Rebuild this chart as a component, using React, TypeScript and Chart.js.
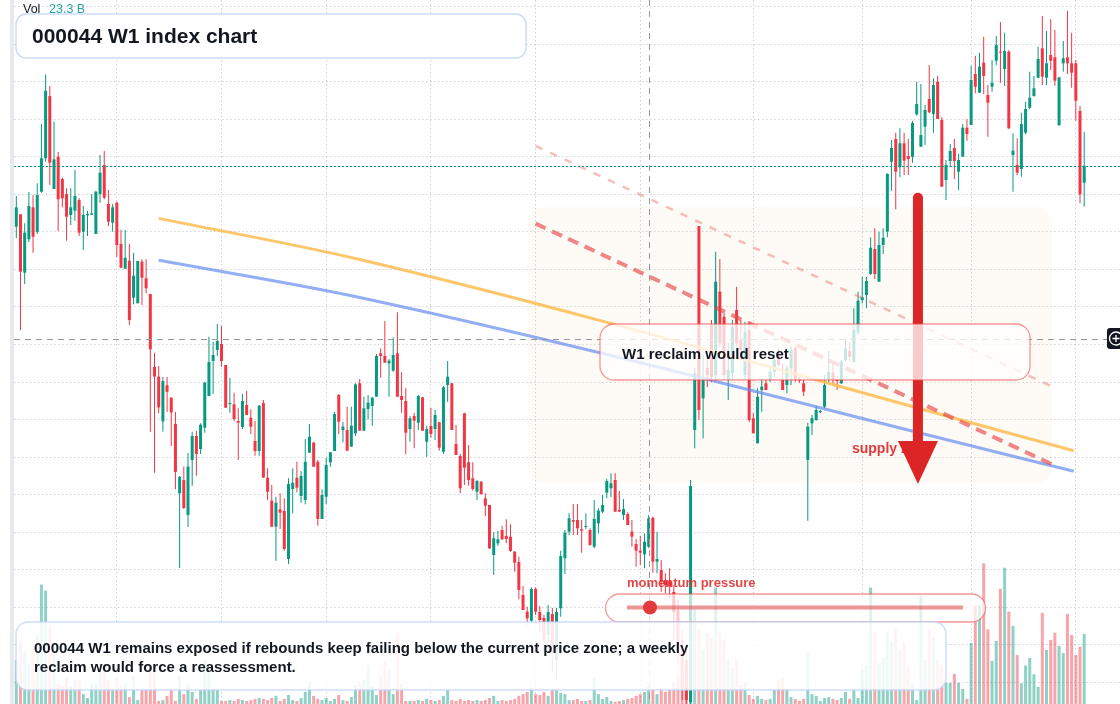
import { useEffect, useRef } from "react";
import { Chart, registerables } from "chart.js";

Chart.register(...registerables);

// Weekly OHLC values (index units)
const opens = [
  5773.3, 5785.7, 5727.3, 5760.7, 5792.7, 5768.3, 5808.3, 5841.7, 5903.9, 5811,
  5843.3, 5821, 5806, 5785, 5789.3, 5800, 5768.3, 5784.7, 5785.3, 5766,
  5806, 5835, 5796, 5777.3, 5797.3, 5756, 5731.3, 5739.3, 5702.3, 5696.7,
  5738.3, 5721.7, 5706, 5633.2, 5623.4, 5578.6, 5614.7, 5602.4, 5576.1, 5506.7,
  5519.9, 5485, 5540, 5564, 5551, 5572.3, 5604, 5639, 5650, 5656,
  5635, 5596, 5595.7, 5579, 5573, 5595, 5582.3, 5559, 5549, 5597,
  5522.3, 5499.3, 5473.3, 5490.7, 5489, 5441, 5511, 5522.3, 5504, 5500,
  5547.3, 5557.3, 5538.3, 5481, 5503.3, 5537.7, 5549, 5605, 5570, 5570,
  5553.3, 5566.7, 5616.7, 5569.3, 5591, 5594, 5603.3, 5646.7, 5644, 5636.7,
  5629.3, 5646.7, 5604, 5599, 5571, 5584, 5577.3, 5602.7, 5558.3, 5574,
  5571, 5577.7, 5548.3, 5615, 5616.7, 5556, 5544, 5586.7, 5537.7, 5521.7,
  5508.3, 5518.3, 5501.7, 5495, 5445, 5456.7, 5470, 5464, 5463.3, 5448.3,
  5438, 5405, 5388.3, 5379.3, 5411, 5388, 5382, 5365, 5386, 5340,
  5391.7, 5441.7, 5468.3, 5480, 5480, 5470.7, 5473, 5470, 5453.3, 5476.7,
  5488.3, 5507.3, 5511.7, 5520, 5490, 5485, 5486, 5468.3, 5456, 5449.3,
  5445.7, 5453.3, 5482.3, 5438.3, 5430, 5420, 5418.3, 5408, 5390, 5360,
  5340, 5298, 5570, 5774, 5601.7, 5632, 5675, 5625, 5708.3, 5683.3,
  5620, 5626.7, 5690, 5660, 5625, 5670, 5581.7, 5556.7, 5610, 5616.7,
  5620, 5628.3, 5643.3, 5620, 5615, 5631.7, 5651.7, 5621, 5616.7, 5540,
  5576.7, 5580, 5587.7, 5593.3, 5620, 5627.3, 5620.7, 5616.7, 5640, 5649.3,
  5638.3, 5667.3, 5700, 5705, 5726, 5751, 5718.3, 5755, 5768.3, 5838.3,
  5861, 5832.7, 5856.7, 5844, 5843.3, 5885.7, 5853.3, 5873.3, 5901, 5886,
  5918.3, 5880, 5820, 5839, 5852, 5828.3, 5843.3, 5872.3, 5875, 5926,
  5907.3, 5937.3, 5905, 5913.3, 5939.3, 5948, 5931, 5948.3, 5845, 5835,
  5831, 5867.3, 5892.3, 5904, 5922.3, 5951.7, 5922.3, 5945, 5942.7, 5875,
  5936.7, 5942.7, 5936.7, 5936.7, 5889, 5817.3,
];

const highs = [
  5804, 5785.7, 5776.7, 5808, 5804.7, 5816.7, 5876, 5925.6, 5914.1, 5878.4,
  5848, 5822.3, 5811.7, 5811.7, 5830, 5802, 5794, 5789.3, 5806, 5809.3,
  5845, 5849, 5810, 5796, 5798.3, 5770, 5770, 5756, 5747.3, 5739,
  5740.7, 5740.7, 5706, 5647.2, 5634, 5623, 5623, 5602.4, 5588, 5524,
  5533.4, 5547, 5568.3, 5569, 5576.7, 5618.3, 5663.3, 5658.3, 5676, 5674,
  5635, 5622.3, 5607.3, 5591.7, 5606, 5609, 5590.7, 5579, 5595, 5600,
  5531.7, 5515, 5503.3, 5506.7, 5501.7, 5521.7, 5531.7, 5538.3, 5529, 5561,
  5576, 5558.3, 5540, 5510.7, 5542.3, 5547.7, 5588.3, 5606, 5578.3, 5593.3,
  5593.3, 5616.7, 5621, 5603.3, 5605, 5603.3, 5646, 5651.7, 5679, 5641,
  5662.7, 5687.7, 5627.7, 5611.7, 5584, 5587.3, 5605, 5602.7, 5574.3, 5592.3,
  5590, 5578.3, 5614, 5639, 5617.3, 5575, 5546, 5587.3, 5555, 5537.7,
  5520, 5519, 5506.7, 5495, 5467.7, 5469, 5474.3, 5480.7, 5475.7, 5449,
  5443.3, 5414, 5393.3, 5412.7, 5412.7, 5394, 5385, 5395, 5392, 5392,
  5449.3, 5470, 5486.7, 5496, 5496, 5480, 5486.7, 5471.7, 5500, 5491.7,
  5505, 5521, 5526.7, 5526.7, 5509, 5501, 5487.7, 5480, 5461, 5464,
  5466.7, 5485, 5483.3, 5468.3, 5440, 5426.7, 5431.7, 5415, 5400, 5370,
  5350, 5520, 5632, 5774, 5645, 5643, 5680, 5748.3, 5741, 5686.7,
  5657, 5680, 5713.3, 5680, 5678.3, 5678, 5586.7, 5611.7, 5621.7, 5620,
  5633.3, 5646.7, 5651.7, 5636.7, 5635, 5653.3, 5653.3, 5623.3, 5621.7, 5577.3,
  5585, 5594, 5590, 5625, 5649, 5637.3, 5623.3, 5640, 5661.7, 5658.3,
  5691.7, 5708.3, 5723.3, 5723.3, 5762.7, 5771.7, 5768.3, 5771.7, 5826.7, 5860,
  5867.3, 5871.7, 5867.3, 5861, 5879.3, 5918.3, 5916, 5895, 5935, 5921.7,
  5924, 5882.7, 5840, 5856, 5861, 5846, 5876, 5880.7, 5934.3, 5944.3,
  5947.3, 5963.3, 5915, 5940, 5964, 5978, 5967.3, 5950, 5866.7, 5861.7,
  5887.3, 5898.3, 5928.3, 5924, 5953.3, 5984, 5969, 5981, 5970, 5922.7,
  5959, 5989, 5967.3, 5940, 5894, 5868.3,
];

const lows = [
  5761.7, 5670, 5716, 5758, 5747.3, 5766, 5807.3, 5838.3, 5815, 5811,
  5769, 5792.7, 5759.3, 5775, 5779.3, 5764, 5750, 5764, 5785.3, 5766,
  5797.3, 5800.7, 5774, 5768.3, 5743.3, 5731.7, 5731.3, 5675, 5695.7, 5696.7,
  5695, 5706.7, 5568.3, 5527.3, 5586.8, 5568.3, 5588, 5554, 5510.8, 5432,
  5491.1, 5473, 5514.3, 5524.3, 5546, 5567.3, 5604, 5606, 5644, 5633.3,
  5592.3, 5587.3, 5579, 5540, 5571, 5585, 5565.7, 5544.3, 5544.3, 5522.3,
  5500, 5473.3, 5439.3, 5471, 5449.3, 5436, 5486.7, 5507.7, 5497.3, 5495.7,
  5547.3, 5533.3, 5474.3, 5481, 5496, 5533.3, 5549, 5565.7, 5557.7, 5549.3,
  5553.3, 5564, 5569.3, 5569.3, 5580.7, 5574.3, 5603.3, 5622.3, 5637.3, 5603.3,
  5628.3, 5603.3, 5587.3, 5545.7, 5558.3, 5551.7, 5570, 5569.3, 5543.3, 5562.3,
  5560, 5549.3, 5546, 5598.3, 5570, 5545, 5506.7, 5515, 5514.3, 5509.3,
  5500, 5505, 5484, 5451, 5425, 5454.3, 5460, 5456.7, 5448.3, 5428.3,
  5400.7, 5390, 5375, 5378.3, 5385, 5368, 5350, 5358, 5327, 5320,
  5383.3, 5426, 5465, 5465, 5465, 5447.3, 5470.7, 5454.3, 5451.7, 5466.7,
  5486.7, 5501.7, 5502.7, 5488.3, 5488.3, 5480, 5475, 5453.3, 5433.3, 5435,
  5431.7, 5451.7, 5427.3, 5426.7, 5408.3, 5406.7, 5401.7, 5360, 5335, 5300,
  5290, 5288, 5551.7, 5580, 5561.7, 5613, 5618, 5620, 5653.3, 5620,
  5600, 5620, 5653.3, 5640, 5620, 5578, 5566.7, 5556.7, 5588.3, 5610,
  5618.3, 5623.3, 5633.3, 5610, 5606.7, 5615, 5618.3, 5617.3, 5604, 5479.3,
  5565, 5579.3, 5586.7, 5591.7, 5616.7, 5616.7, 5610, 5616, 5638.3, 5638.3,
  5637.3, 5665, 5696.7, 5691.7, 5725, 5721, 5718.3, 5746, 5762.7, 5809.3,
  5790.7, 5822.7, 5825, 5825, 5837.3, 5884.3, 5853.3, 5855, 5886.7, 5867.3,
  5881, 5813.3, 5800, 5832.7, 5821, 5810, 5843.3, 5859.3, 5875, 5906.7,
  5907.3, 5906, 5863.3, 5908.3, 5935, 5917.3, 5914, 5871, 5808.3, 5825,
  5823.3, 5865.7, 5890.7, 5903.3, 5921.7, 5915, 5915, 5930, 5914.3, 5874,
  5928.3, 5926, 5912.3, 5879.3, 5796.7, 5793.3,
];

const closes = [
  5792.7, 5728.3, 5767.3, 5794, 5763.3, 5805, 5841.7, 5909.2, 5837.3, 5840.7,
  5800.7, 5801.7, 5783.3, 5792.7, 5804, 5767.3, 5785, 5786, 5786.7, 5808.3,
  5827.3, 5802.3, 5778.3, 5792.7, 5755, 5732.3, 5742.3, 5680, 5724.3, 5739,
  5722.3, 5711.7, 5650.7, 5623.4, 5592.6, 5618.9, 5608.2, 5587.6, 5528.1, 5523.2,
  5492, 5533.4, 5564, 5546, 5575.3, 5617.3, 5638, 5645, 5659, 5639,
  5592.3, 5597, 5581, 5577.3, 5599, 5585, 5573.3, 5549, 5594.3, 5522.3,
  5508.3, 5473.3, 5497.3, 5487.3, 5451, 5516, 5517.3, 5512.3, 5524, 5538.3,
  5563.3, 5533.3, 5481, 5505, 5535, 5547.7, 5586, 5578.3, 5573.3, 5549.3,
  5574.3, 5615.7, 5569.3, 5591.7, 5597.3, 5602.3, 5644, 5644, 5637.3, 5639.3,
  5645, 5603.3, 5600, 5567.3, 5581.7, 5579.3, 5604, 5569.3, 5571, 5566,
  5585, 5552.3, 5612.7, 5623.3, 5570, 5545, 5511.7, 5532.3, 5520, 5511,
  5519, 5506, 5494.3, 5451.7, 5461.7, 5460.7, 5460.7, 5461, 5449, 5437.3,
  5410, 5390, 5381.7, 5411, 5388.3, 5380, 5360, 5388, 5355, 5388,
  5444, 5467.3, 5481.7, 5478.3, 5471.7, 5469.3, 5474, 5455, 5481, 5489.3,
  5495, 5519, 5516.7, 5488.3, 5488.3, 5491, 5475, 5463.3, 5449.3, 5447.3,
  5458.3, 5481.7, 5438.3, 5441, 5418.3, 5415, 5413.3, 5388, 5350, 5312,
  5300, 5514, 5626.7, 5590, 5620, 5625, 5623, 5718.3, 5656.7, 5625,
  5630, 5673.3, 5656.7, 5650, 5668.3, 5580, 5566.7, 5603.3, 5613.3, 5610,
  5628.3, 5640, 5635, 5610, 5631.7, 5650, 5620, 5619.3, 5608.3, 5573.3,
  5581.7, 5590, 5589, 5615, 5628.3, 5620, 5619, 5638.3, 5651.7, 5643.3,
  5670, 5699.3, 5702.7, 5719, 5752.3, 5726, 5755, 5762.3, 5826, 5852,
  5828.3, 5856.7, 5839.3, 5841, 5877, 5896, 5865, 5890, 5887.7, 5915,
  5881, 5813.3, 5835, 5849, 5839, 5840, 5872.3, 5866, 5920, 5913.3,
  5933.3, 5924, 5897.3, 5917.3, 5955, 5947.3, 5949, 5871.7, 5849.3, 5827.3,
  5876, 5891, 5902.3, 5911.7, 5941, 5923.3, 5936.7, 5939.3, 5919.3, 5922.7,
  5941.7, 5936.7, 5927.3, 5899.3, 5805.7, 5834.3,
];

// Weekly volume, billions
const volumes = [
  14.7, 21.0, 17.7, 13.3, 18.3, 23.0, 39.7, 37.7, 26.3, 17.7,
  6.7, 6.0, 8.7, 6.0, 8.0, 8.0, 3.3, 2.0, 7.0, 7.0,
  13.3, 13.3, 8.0, 4.7, 8.7, 6.0, 6.7, 2.3, 9.3, 1.3,
  4.7, 4.7, 13.3, 13.3, 1.0, 1.3, 2.7, 4.7, 1.0, 9.3,
  3.3, 6.7, 4.0, 1.7, 4.7, 14.7, 12.3, 4.7, 4.7, 1.0,
  1.0, 1.3, 1.0, 1.7, 1.3, 1.0, 1.3, 1.7, 2.0, 1.7,
  1.3, 2.0, 2.7, 1.0, 1.7, 3.0, 1.3, 1.0, 2.0, 4.0,
  7.3, 2.7, 1.7, 1.3, 2.0, 1.0, 1.7, 3.0, 1.3, 1.0,
  2.3, 6.3, 7.3, 8.0, 13.0, 6.0, 3.0, 9.3, 14.0, 11.3,
  3.3, 23.7, 6.7, 1.0, 1.0, 1.0, 1.3, 1.0, 1.7, 1.3,
  1.0, 1.3, 2.7, 4.7, 1.3, 1.0, 1.7, 1.0, 1.3, 1.0,
  1.3, 1.0, 1.3, 2.0, 2.7, 1.0, 1.3, 1.0, 1.3, 1.7,
  2.7, 3.3, 4.0, 5.3, 3.3, 3.0, 4.0, 2.7, 5.0, 4.7,
  3.7, 3.3, 1.3, 1.3, 1.7, 1.0, 1.0, 1.3, 9.0, 3.3,
  1.7, 2.3, 1.0, 0.7, 1.0, 1.3, 1.7, 2.0, 2.7, 3.3,
  4.0, 6.0, 4.7, 3.3, 5.3, 4.0, 5.0, 7.3, 9.3, 11.7,
  13.3, 10.0, 31.7, 24.7, 18.0, 23.7, 22.0, 38.7, 24.0, 21.3,
  14.7, 12.0, 15.0, 6.3, 7.0, 3.0, 1.7, 2.7, 1.7, 1.3,
  1.7, 4.7, 8.0, 8.7, 5.0, 2.3, 1.7, 1.0, 1.7, 17.0,
  3.3, 2.7, 1.0, 2.0, 2.3, 1.7, 1.3, 2.0, 4.0, 1.7,
  5.0, 2.0, 11.7, 13.0, 38.7, 23.7, 13.7, 15.3, 23.7, 20.7,
  25.0, 17.7, 20.7, 13.0, 6.7, 1.3, 36.0, 14.7, 25.0, 22.0,
  14.7, 13.0, 7.0, 7.0, 10.0, 7.0, 5.0, 1.7, 20.3, 32.7,
  32.7, 46.8, 24.8, 14.3, 21.0, 38.3, 45.3, 30.7, 26.0, 16.3,
  6.9, 12.8, 15.3, 9.9, 5.7, 30.3, 18.0, 21.3, 23.7, 19.3,
  16.9, 29.9, 22.9, 16.3, 19.0, 23.3,
];

// Time-axis grid marks (week index)
const gridWeeks = [24, 49, 74, 99, 124, 149, 176, 202, 228, 253];

// Trend lines: [week index, price]
const orangeTrend = [
  { x: 34, y: 5781.6 },
  { x: 82, y: 5740.5 },
  { x: 252.5, y: 5549.3 },
];
const blueTrend = [
  { x: 34, y: 5739.7 },
  { x: 82, y: 5702.5 },
  { x: 252.5, y: 5528.8 },
];
const resistanceDashed = [
  { x: 124, y: 5776.4 },
  { x: 248, y: 5534.4 },
];
const upperDashed = [
  { x: 124, y: 5854.1 },
  { x: 248, y: 5612.1 },
];

// Annotation anchors
const supplyZone = { fromWeek: 122.2, toWeek: 247.3, top: 5793, bottom: 5517 };
const arrowAnchor = { week: 215.3, from: 5802.3, to: 5516 };
const supplyLabel = { week: 199.55, price: 5547 };
const crosshair = { week: 151, price: 5661.5 };
const lastVolumeLabel = "23.3 B";

const GREEN = "#089981";
const RED = "#f23645";
const FONT = '"Liberation Sans", Arial, Helvetica, sans-serif';

function rr(ctx: CanvasRenderingContext2D, x: number, y: number, w: number, h: number, r: number) {
  ctx.beginPath();
  ctx.moveTo(x + r, y);
  ctx.arcTo(x + w, y, x + w, y + h, r);
  ctx.arcTo(x + w, y + h, x, y + h, r);
  ctx.arcTo(x, y + h, x, y, r);
  ctx.arcTo(x, y, x + w, y, r);
  ctx.closePath();
}

export default function App() {
  const ref = useRef<HTMLCanvasElement>(null);

  useEffect(() => {
    document.body.style.margin = "0";
    const canvas = ref.current;
    if (!canvas) return;

    const idx = closes.map((_, i) => i);
    const up = closes.map((c, i) => c >= opens[i]);
    const candleColors = up.map((u) => (u ? GREEN : RED));
    const volColors = up.map((u) => (u ? "rgba(8,153,129,0.45)" : "rgba(242,54,69,0.45)"));
    const maxVol = Math.max(...volumes);
    const yGridTop = 5993.5;
    const yGridStep = 37.55;

    const overlay = {
      id: "overlay",
      beforeDraw(chart: any) {
        const { ctx, chartArea: a } = chart;
        ctx.save();
        ctx.fillStyle = "#ffffff";
        ctx.fillRect(0, 0, chart.width, chart.height);
        ctx.fillStyle = "#e8e9ec";
        ctx.fillRect(a.left - 4, 0, 4, chart.height);
        ctx.restore();
      },
      beforeDatasetsDraw(chart: any) {
        const { ctx, scales } = chart;
        const X = (v: number) => scales.x.getPixelForValue(v);
        const Y = (v: number) => scales.y.getPixelForValue(v);
        ctx.save();
        const x1 = X(supplyZone.fromWeek);
        const x2 = X(supplyZone.toWeek);
        const y1 = Y(supplyZone.top);
        const y2 = Y(supplyZone.bottom);
        rr(ctx, x1, y1, x2 - x1, y2 - y1, 16);
        ctx.fillStyle = "rgba(251,220,190,0.14)";
        ctx.fill();
        ctx.restore();
      },
      afterDatasetsDraw(chart: any) {
        const { ctx, chartArea: a, scales } = chart;
        const X = (v: number) => scales.x.getPixelForValue(v);
        const Y = (v: number) => scales.y.getPixelForValue(v);
        ctx.save();

        // last price line
        const ly = Math.round(Y(closes[closes.length - 1])) + 0.5;
        ctx.setLineDash([2, 2]);
        ctx.strokeStyle = GREEN;
        ctx.lineWidth = 1;
        ctx.beginPath();
        ctx.moveTo(a.left, ly);
        ctx.lineTo(a.right, ly);
        ctx.stroke();

        // crosshair
        const cx = Math.round(X(crosshair.week)) + 0.5;
        const cy = Math.round(Y(crosshair.price)) + 0.5;
        ctx.setLineDash([6, 5]);
        ctx.strokeStyle = "#9598a1";
        ctx.beginPath();
        ctx.moveTo(cx, a.top);
        ctx.lineTo(cx, a.bottom);
        ctx.moveTo(a.left, cy);
        ctx.lineTo(a.right, cy);
        ctx.stroke();
        ctx.setLineDash([]);

        // supply zone label
        ctx.font = `bold 14px ${FONT}`;
        ctx.fillStyle = "rgba(220,38,38,0.9)";
        ctx.textBaseline = "alphabetic";
        ctx.textAlign = "left";
        ctx.fillText("supply zone", X(supplyLabel.week), Y(supplyLabel.price));

        // arrow
        const ax = X(arrowAnchor.week);
        const ay1 = Y(arrowAnchor.from);
        const ay2 = Y(arrowAnchor.to);
        ctx.strokeStyle = "#dc2626";
        ctx.fillStyle = "#dc2626";
        ctx.lineWidth = 10;
        ctx.lineCap = "round";
        ctx.beginPath();
        ctx.moveTo(ax, ay1);
        ctx.lineTo(ax, ay2 - 38);
        ctx.stroke();
        ctx.lineCap = "butt";
        ctx.beginPath();
        ctx.moveTo(ax - 20, ay2 - 43);
        ctx.lineTo(ax + 20, ay2 - 43);
        ctx.lineTo(ax, ay2);
        ctx.closePath();
        ctx.fill();

        // W1 reclaim box
        rr(ctx, 600, 324, 430, 56, 14);
        ctx.fillStyle = "rgba(255,255,255,0.76)";
        ctx.fill();
        ctx.lineWidth = 1.3;
        ctx.strokeStyle = "rgba(239,68,68,0.55)";
        ctx.stroke();
        ctx.font = `bold 15px ${FONT}`;
        ctx.fillStyle = "#131722";
        ctx.fillText("W1 reclaim would reset", 622, 359);

        // momentum pressure
        ctx.font = `bold 13px ${FONT}`;
        ctx.fillStyle = "rgba(220,38,38,0.85)";
        ctx.fillText("momentum pressure", 627, 587);
        rr(ctx, 605.5, 594, 380, 28, 14);
        ctx.fillStyle = "rgba(255,255,255,0.72)";
        ctx.fill();
        ctx.lineWidth = 1.3;
        ctx.strokeStyle = "rgba(239,68,68,0.55)";
        ctx.stroke();
        ctx.strokeStyle = "rgba(228,80,80,0.6)";
        ctx.lineWidth = 4;
        ctx.beginPath();
        ctx.moveTo(627, 607.5);
        ctx.lineTo(963, 607.5);
        ctx.stroke();
        ctx.fillStyle = "#e23b3b";
        ctx.beginPath();
        ctx.arc(650, 607.5, 7, 0, Math.PI * 2);
        ctx.fill();

        // bottom commentary box
        rr(ctx, 16, 622, 930, 68, 12);
        ctx.fillStyle = "rgba(255,255,255,0.87)";
        ctx.fill();
        ctx.lineWidth = 1.5;
        ctx.strokeStyle = "rgba(190,210,245,0.75)";
        ctx.stroke();
        ctx.font = `bold 15px ${FONT}`;
        ctx.fillStyle = "#131722";
        ctx.fillText(
          "000044 W1 remains exposed if rebounds keep failing below the current price zone; a weekly",
          34,
          652.5
        );
        ctx.fillText("reclaim would force a reassessment.", 34, 672);

        // title box
        rr(ctx, 16, 14, 510, 44, 10);
        ctx.fillStyle = "#ffffff";
        ctx.fill();
        ctx.lineWidth = 1.5;
        ctx.strokeStyle = "rgba(190,210,245,0.8)";
        ctx.stroke();
        ctx.font = `bold 21px ${FONT}`;
        ctx.fillStyle = "#131722";
        ctx.fillText("000044 W1 index chart", 32, 43);

        // volume legend
        ctx.font = `12.5px ${FONT}`;
        ctx.fillStyle = "#131722";
        ctx.fillText("Vol", 23, 12.5);
        ctx.fillStyle = "#26a69a";
        ctx.fillText(lastVolumeLabel, 49, 12.5);

        // crosshair button on the right
        rr(ctx, 1107, 328, 30, 21, 3);
        ctx.fillStyle = "#131722";
        ctx.fill();
        ctx.strokeStyle = "#ffffff";
        ctx.lineWidth = 1.3;
        ctx.beginPath();
        ctx.arc(1116, 338.5, 6.5, 0, Math.PI * 2);
        ctx.moveTo(1112.5, 338.5);
        ctx.lineTo(1119.5, 338.5);
        ctx.moveTo(1116, 335);
        ctx.lineTo(1116, 342);
        ctx.stroke();

        ctx.restore();
      },
    };

    const gridStyle = { color: "#cdd0d7", lineWidth: 1, drawTicks: false, offset: false };
    const borderStyle = { display: false, dash: [1.5, 2.5] };

    const chart = new Chart(canvas, {
      type: "bar",
      data: {
        datasets: [
          {
            type: "line",
            label: "upper dashed",
            data: upperDashed,
            borderColor: "rgba(235,110,110,0.45)",
            borderWidth: 2.5,
            borderDash: [7.5, 8.5],
            pointRadius: 0,
            order: 0,
          } as any,
          {
            type: "line",
            label: "resistance dashed",
            data: resistanceDashed,
            borderColor: "rgba(230,70,70,0.65)",
            borderWidth: 4,
            borderDash: [11, 7],
            pointRadius: 0,
            order: 0,
          },
          {
            type: "line",
            label: "orange trend",
            data: orangeTrend,
            borderColor: "rgba(251,188,80,0.85)",
            borderWidth: 3,
            pointRadius: 0,
            cubicInterpolationMode: "monotone",
            order: 1,
          },
          {
            type: "line",
            label: "blue trend",
            data: blueTrend,
            borderColor: "rgba(100,140,240,0.7)",
            borderWidth: 3,
            pointRadius: 0,
            cubicInterpolationMode: "monotone",
            order: 1,
          },
          {
            type: "bar",
            label: "bodies",
            data: idx.map((i) => ({ x: i, y: [opens[i], closes[i]] })),
            backgroundColor: candleColors,
            barThickness: 3,
            minBarLength: 1,
            inflateAmount: 0,
            grouped: false,
            order: 5,
          },
          {
            type: "bar",
            label: "wicks",
            data: idx.map((i) => ({ x: i, y: [lows[i], highs[i]] })),
            backgroundColor: candleColors,
            barThickness: 1,
            inflateAmount: 0,
            grouped: false,
            order: 6,
          },
          {
            type: "bar",
            label: "volume",
            data: idx.map((i) => ({ x: i, y: volumes[i] })),
            backgroundColor: volColors,
            barThickness: 3,
            inflateAmount: 0,
            grouped: false,
            yAxisID: "yv",
            order: 7,
          },
        ] as any,
      },
      options: {
        responsive: false,
        maintainAspectRatio: false,
        animation: false,
        devicePixelRatio: 1,
        events: [],
        layout: { padding: { left: 14, right: 0, top: 0, bottom: 0 } },
        plugins: { legend: { display: false }, tooltip: { enabled: false } },
        scales: {
          x: {
            type: "linear",
            min: -0.55,
            max: 263.55,
            offset: false,
            ticks: { display: false },
            grid: gridStyle,
            border: borderStyle,
            afterBuildTicks: (s: any) => {
              s.ticks = gridWeeks.map((v) => ({ value: v }));
            },
          },
          y: {
            type: "linear",
            min: 5296,
            max: 6000,
            ticks: { display: false },
            grid: gridStyle,
            border: borderStyle,
            afterBuildTicks: (s: any) => {
              const t: { value: number }[] = [];
              for (let v = yGridTop; v > s.min; v -= yGridStep) t.push({ value: v });
              s.ticks = t;
            },
          },
          yv: {
            type: "linear",
            display: false,
            min: 0,
            max: maxVol / 0.2,
          },
        },
      } as any,
      plugins: [overlay],
    });

    return () => chart.destroy();
  }, []);

  return (
    <div style={{ width: 1120, height: 704, position: "relative", overflow: "hidden" }}>
      <canvas ref={ref} width={1120} height={704} style={{ display: "block", width: 1120, height: 704 }} />
    </div>
  );
}
